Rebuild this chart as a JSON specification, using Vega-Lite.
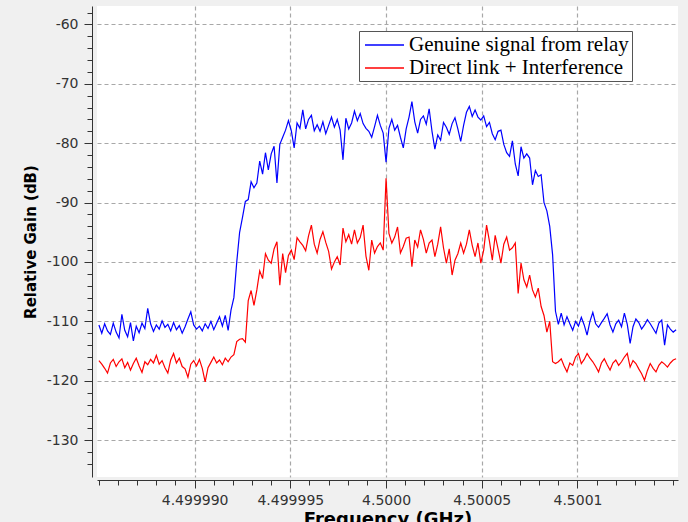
{
  "$schema": "https://vega.github.io/schema/vega-lite/v6.json",
  "width": 581,
  "height": 471,
  "autosize": {"type": "none"},
  "padding": {"left": 97, "top": 6, "right": 10, "bottom": 45},
  "background": "#f0f0f0",
  "config": {
    "view": {"stroke": null, "fill": "white"},
    "axis": {"labelFont": "DejaVu Sans", "labelFontSize": 14, "labelColor": "#333333", "tickColor": "#333333", "domainColor": "#333333", "titleFont": "DejaVu Sans", "titleColor": "#000000"}
  },
  "data": {
    "values": [
      {"f": -15.00, "g": -110.6, "d": -116.6},
      {"f": -14.85, "g": -112.0, "d": -117.2},
      {"f": -14.70, "g": -110.4, "d": -117.9},
      {"f": -14.55, "g": -111.6, "d": -118.7},
      {"f": -14.40, "g": -112.2, "d": -117.0},
      {"f": -14.25, "g": -110.3, "d": -116.4},
      {"f": -14.10, "g": -111.8, "d": -117.6},
      {"f": -13.95, "g": -112.8, "d": -116.8},
      {"f": -13.80, "g": -108.8, "d": -116.3},
      {"f": -13.65, "g": -111.5, "d": -117.8},
      {"f": -13.50, "g": -112.6, "d": -116.9},
      {"f": -13.35, "g": -110.2, "d": -118.2},
      {"f": -13.20, "g": -113.3, "d": -117.1},
      {"f": -13.05, "g": -110.8, "d": -116.2},
      {"f": -12.90, "g": -111.9, "d": -117.5},
      {"f": -12.75, "g": -110.3, "d": -118.6},
      {"f": -12.60, "g": -111.2, "d": -116.8},
      {"f": -12.45, "g": -107.8, "d": -117.3},
      {"f": -12.30, "g": -110.4, "d": -116.4},
      {"f": -12.15, "g": -111.7, "d": -117.0},
      {"f": -12.00, "g": -110.6, "d": -115.7},
      {"f": -11.85, "g": -111.3, "d": -117.2},
      {"f": -11.70, "g": -109.9, "d": -116.6},
      {"f": -11.55, "g": -111.0, "d": -117.8},
      {"f": -11.40, "g": -110.5, "d": -118.7},
      {"f": -11.25, "g": -111.6, "d": -116.5},
      {"f": -11.10, "g": -110.2, "d": -115.4},
      {"f": -10.95, "g": -111.4, "d": -117.0},
      {"f": -10.80, "g": -110.7, "d": -116.2},
      {"f": -10.65, "g": -112.0, "d": -117.6},
      {"f": -10.50, "g": -110.9, "d": -118.0},
      {"f": -10.35, "g": -109.6, "d": -119.4},
      {"f": -10.20, "g": -108.4, "d": -117.2},
      {"f": -10.05, "g": -110.6, "d": -116.6},
      {"f": -9.90, "g": -111.3, "d": -117.5},
      {"f": -9.75, "g": -110.8, "d": -116.4},
      {"f": -9.60, "g": -111.6, "d": -117.9},
      {"f": -9.45, "g": -110.4, "d": -120.2},
      {"f": -9.30, "g": -111.2, "d": -117.8},
      {"f": -9.15, "g": -110.0, "d": -116.9},
      {"f": -9.00, "g": -111.4, "d": -116.0},
      {"f": -8.85, "g": -110.3, "d": -117.0},
      {"f": -8.70, "g": -109.2, "d": -116.5},
      {"f": -8.55, "g": -110.8, "d": -117.3},
      {"f": -8.40, "g": -109.0, "d": -116.2},
      {"f": -8.25, "g": -111.5, "d": -116.8},
      {"f": -8.10, "g": -108.1, "d": -116.0},
      {"f": -7.95, "g": -106.0, "d": -115.6},
      {"f": -7.80, "g": -100.0, "d": -113.4},
      {"f": -7.65, "g": -95.0, "d": -113.0},
      {"f": -7.50, "g": -92.5, "d": -112.9},
      {"f": -7.35, "g": -89.8, "d": -113.5},
      {"f": -7.20, "g": -89.5, "d": -106.5},
      {"f": -7.05, "g": -86.5, "d": -104.8},
      {"f": -6.90, "g": -87.5, "d": -107.3},
      {"f": -6.75, "g": -86.7, "d": -104.7},
      {"f": -6.60, "g": -83.0, "d": -101.5},
      {"f": -6.45, "g": -85.2, "d": -102.8},
      {"f": -6.30, "g": -81.6, "d": -98.6},
      {"f": -6.15, "g": -84.5, "d": -99.7},
      {"f": -6.00, "g": -81.8, "d": -100.2},
      {"f": -5.85, "g": -80.5, "d": -97.8},
      {"f": -5.70, "g": -86.7, "d": -96.6},
      {"f": -5.55, "g": -80.2, "d": -103.9},
      {"f": -5.40, "g": -79.0, "d": -98.6},
      {"f": -5.25, "g": -77.8, "d": -101.8},
      {"f": -5.10, "g": -76.2, "d": -98.9},
      {"f": -4.95, "g": -77.9, "d": -98.0},
      {"f": -4.80, "g": -80.8, "d": -99.6},
      {"f": -4.65, "g": -76.6, "d": -95.9},
      {"f": -4.50, "g": -77.5, "d": -96.6},
      {"f": -4.35, "g": -74.4, "d": -97.2},
      {"f": -4.20, "g": -77.6, "d": -98.1},
      {"f": -4.05, "g": -76.0, "d": -95.6},
      {"f": -3.90, "g": -75.3, "d": -93.8},
      {"f": -3.75, "g": -77.9, "d": -97.0},
      {"f": -3.60, "g": -76.9, "d": -98.5},
      {"f": -3.45, "g": -78.0, "d": -96.2},
      {"f": -3.30, "g": -76.4, "d": -94.9},
      {"f": -3.15, "g": -78.4, "d": -96.7},
      {"f": -3.00, "g": -77.0, "d": -98.2},
      {"f": -2.85, "g": -75.6, "d": -101.2},
      {"f": -2.70, "g": -77.3, "d": -100.0},
      {"f": -2.55, "g": -76.0, "d": -99.1},
      {"f": -2.40, "g": -77.8, "d": -100.5},
      {"f": -2.25, "g": -82.8, "d": -94.3},
      {"f": -2.10, "g": -75.8, "d": -96.6},
      {"f": -1.95, "g": -77.6, "d": -95.4},
      {"f": -1.80, "g": -76.6, "d": -97.0},
      {"f": -1.65, "g": -74.6, "d": -94.6},
      {"f": -1.50, "g": -76.2, "d": -96.8},
      {"f": -1.35, "g": -75.0, "d": -95.9},
      {"f": -1.20, "g": -76.7, "d": -93.8},
      {"f": -1.05, "g": -77.5, "d": -99.0},
      {"f": -0.90, "g": -78.0, "d": -101.4},
      {"f": -0.75, "g": -79.0, "d": -96.3},
      {"f": -0.60, "g": -77.2, "d": -98.5},
      {"f": -0.45, "g": -75.3, "d": -97.4},
      {"f": -0.30, "g": -77.0, "d": -96.8},
      {"f": -0.15, "g": -78.3, "d": -98.0},
      {"f": 0.00, "g": -83.2, "d": -85.9},
      {"f": 0.15, "g": -77.5, "d": -95.2},
      {"f": 0.30, "g": -76.0, "d": -96.8},
      {"f": 0.45, "g": -77.8, "d": -95.8},
      {"f": 0.60, "g": -77.0, "d": -94.1},
      {"f": 0.75, "g": -79.0, "d": -98.5},
      {"f": 0.90, "g": -80.8, "d": -97.4},
      {"f": 1.05, "g": -77.6, "d": -96.0},
      {"f": 1.20, "g": -75.6, "d": -95.8},
      {"f": 1.35, "g": -73.0, "d": -100.8},
      {"f": 1.50, "g": -76.4, "d": -96.3},
      {"f": 1.65, "g": -78.3, "d": -97.5},
      {"f": 1.80, "g": -76.0, "d": -94.6},
      {"f": 1.95, "g": -75.4, "d": -96.2},
      {"f": 2.10, "g": -76.8, "d": -98.5},
      {"f": 2.25, "g": -74.2, "d": -96.8},
      {"f": 2.40, "g": -78.0, "d": -96.3},
      {"f": 2.55, "g": -81.0, "d": -99.1},
      {"f": 2.70, "g": -78.6, "d": -97.0},
      {"f": 2.85, "g": -79.5, "d": -94.1},
      {"f": 3.00, "g": -76.5, "d": -97.6},
      {"f": 3.15, "g": -77.3, "d": -100.2},
      {"f": 3.30, "g": -78.5, "d": -97.8},
      {"f": 3.45, "g": -76.7, "d": -102.2},
      {"f": 3.60, "g": -75.7, "d": -99.7},
      {"f": 3.75, "g": -77.6, "d": -98.6},
      {"f": 3.90, "g": -79.7, "d": -96.8},
      {"f": 4.05, "g": -77.0, "d": -98.5},
      {"f": 4.20, "g": -74.8, "d": -97.0},
      {"f": 4.35, "g": -73.8, "d": -94.6},
      {"f": 4.50, "g": -75.5, "d": -97.2},
      {"f": 4.65, "g": -74.4, "d": -99.1},
      {"f": 4.80, "g": -75.6, "d": -96.8},
      {"f": 4.95, "g": -76.1, "d": -100.2},
      {"f": 5.10, "g": -75.4, "d": -98.0},
      {"f": 5.25, "g": -77.2, "d": -93.8},
      {"f": 5.40, "g": -76.5, "d": -96.5},
      {"f": 5.55, "g": -78.4, "d": -99.7},
      {"f": 5.70, "g": -79.4, "d": -95.5},
      {"f": 5.85, "g": -78.0, "d": -97.8},
      {"f": 6.00, "g": -77.8, "d": -100.2},
      {"f": 6.15, "g": -80.2, "d": -97.0},
      {"f": 6.30, "g": -81.6, "d": -95.8},
      {"f": 6.45, "g": -82.2, "d": -98.0},
      {"f": 6.60, "g": -79.6, "d": -97.6},
      {"f": 6.75, "g": -83.5, "d": -96.8},
      {"f": 6.90, "g": -85.5, "d": -105.3},
      {"f": 7.05, "g": -80.6, "d": -100.2},
      {"f": 7.20, "g": -82.5, "d": -103.0},
      {"f": 7.35, "g": -81.8, "d": -104.2},
      {"f": 7.50, "g": -82.5, "d": -102.2},
      {"f": 7.65, "g": -87.0, "d": -104.7},
      {"f": 7.80, "g": -84.6, "d": -105.9},
      {"f": 7.95, "g": -85.6, "d": -104.4},
      {"f": 8.10, "g": -85.3, "d": -107.5},
      {"f": 8.25, "g": -90.0, "d": -109.0},
      {"f": 8.40, "g": -91.4, "d": -111.8},
      {"f": 8.55, "g": -94.0, "d": -110.0},
      {"f": 8.70, "g": -98.8, "d": -116.8},
      {"f": 8.85, "g": -108.3, "d": -117.1},
      {"f": 9.00, "g": -110.5, "d": -116.8},
      {"f": 9.15, "g": -108.6, "d": -116.3},
      {"f": 9.30, "g": -110.6, "d": -117.5},
      {"f": 9.45, "g": -109.2, "d": -118.5},
      {"f": 9.60, "g": -110.4, "d": -117.0},
      {"f": 9.75, "g": -111.5, "d": -117.4},
      {"f": 9.90, "g": -110.0, "d": -116.0},
      {"f": 10.05, "g": -110.8, "d": -115.4},
      {"f": 10.20, "g": -109.3, "d": -117.1},
      {"f": 10.35, "g": -110.6, "d": -116.4},
      {"f": 10.50, "g": -112.3, "d": -115.4},
      {"f": 10.65, "g": -110.0, "d": -116.2},
      {"f": 10.80, "g": -108.5, "d": -116.8},
      {"f": 10.95, "g": -110.4, "d": -117.6},
      {"f": 11.10, "g": -111.0, "d": -118.5},
      {"f": 11.25, "g": -110.2, "d": -117.0},
      {"f": 11.40, "g": -109.5, "d": -116.3},
      {"f": 11.55, "g": -108.7, "d": -117.3},
      {"f": 11.70, "g": -110.6, "d": -118.2},
      {"f": 11.85, "g": -111.8, "d": -117.0},
      {"f": 12.00, "g": -110.4, "d": -116.5},
      {"f": 12.15, "g": -109.8, "d": -117.4},
      {"f": 12.30, "g": -110.9, "d": -116.8},
      {"f": 12.45, "g": -108.6, "d": -116.0},
      {"f": 12.60, "g": -110.5, "d": -115.4},
      {"f": 12.75, "g": -113.7, "d": -117.7},
      {"f": 12.90, "g": -110.9, "d": -116.6},
      {"f": 13.05, "g": -109.6, "d": -117.1},
      {"f": 13.20, "g": -110.2, "d": -118.0},
      {"f": 13.35, "g": -111.3, "d": -118.8},
      {"f": 13.50, "g": -110.6, "d": -119.9},
      {"f": 13.65, "g": -109.7, "d": -118.3},
      {"f": 13.80, "g": -110.4, "d": -117.1},
      {"f": 13.95, "g": -111.2, "d": -117.9},
      {"f": 14.10, "g": -112.0, "d": -118.5},
      {"f": 14.25, "g": -110.3, "d": -117.4},
      {"f": 14.40, "g": -109.8, "d": -116.8},
      {"f": 14.55, "g": -114.0, "d": -117.2},
      {"f": 14.70, "g": -110.6, "d": -117.7},
      {"f": 14.85, "g": -111.3, "d": -117.0},
      {"f": 15.00, "g": -111.8, "d": -116.5},
      {"f": 15.15, "g": -111.4, "d": -116.3}
    ]
  },
  "transform": [{"fold": ["g", "d"], "as": ["s", "gain"]}],
  "layer": [
    {
      "transform": [{"filter": "datum.s == 'g'"}],
      "mark": {"type": "line", "strokeWidth": 1.2, "clip": true},
      "encoding": {
        "x": {
          "field": "f", "type": "quantitative",
          "scale": {"domain": [-15.1, 15.25], "nice": false, "zero": false},
          "axis": {
            "orient": "bottom", "offset": 3,
            "values": [-10, -5, 0, 5, 10],
            "labelExpr": "datum.value == -10 ? '4.499990' : datum.value == -5 ? '4.499995' : datum.value == 0 ? '4.5000' : datum.value == 5 ? '4.50005' : '4.5001'",
            "tickSize": 8, "labelPadding": 5,
            "grid": true, "gridDash": [4, 3], "gridColor": "#a8a8a8", "gridWidth": 1.2,
            "title": "Frequency (GHz)", "titleFontSize": 18, "titleFontWeight": "bold", "titlePadding": 3
          }
        },
        "y": {
          "field": "gain", "type": "quantitative",
          "scale": {"domain": [-136.2, -56.9], "nice": false, "zero": false},
          "axis": {
            "orient": "left", "offset": 5,
            "values": [-130, -120, -110, -100, -90, -80, -70, -60],
            "labelExpr": "'-' + format(abs(datum.value), 'd')",
            "tickSize": 8, "labelPadding": 6,
            "grid": true, "gridDash": [4, 3], "gridColor": "#a8a8a8", "gridWidth": 1.2,
            "title": "Relative Gain (dB)", "titleFontSize": 15, "titleFontWeight": "bold", "titlePadding": 8
          }
        },
        "color": {
          "field": "s", "type": "nominal",
          "scale": {"domain": ["g", "d"], "range": ["#0000ff", "#ff0000"]},
          "legend": {
            "orient": "none", "legendX": 262, "legendY": 25,
            "title": null,
            "labelExpr": "datum.label == 'g' ? 'Genuine signal from relay' : 'Direct link + Interference'",
            "labelFont": "Liberation Serif", "labelFontSize": 21, "labelColor": "#000000", "labelLimit": 0,
            "symbolType": "M-0.8,0H3.1", "symbolSize": 400, "symbolStrokeWidth": 1.3,
            "fillColor": "#ffffff", "strokeColor": "#555555", "padding": 3, "rowPadding": 2, "labelOffset": 25
          }
        }
      }
    },
    {
      "transform": [{"filter": "datum.s == 'd'"}],
      "mark": {"type": "line", "strokeWidth": 1.2, "clip": true},
      "encoding": {
        "x": {
          "field": "f", "type": "quantitative",
          "axis": {
            "orient": "bottom", "offset": 3,
            "values": [-15, -14, -13, -12, -11, -9, -8, -7, -6, -4, -3, -2, -1, 1, 2, 3, 4, 6, 7, 8, 9, 11, 12, 13, 14, 15],
            "tickSize": 5, "labels": false, "grid": false, "domain": false, "title": null
          }
        },
        "y": {
          "field": "gain", "type": "quantitative",
          "axis": {
            "orient": "left", "offset": 5,
            "values": [-134, -132, -128, -126, -124, -122, -118, -116, -114, -112, -108, -106, -104, -102, -98, -96, -94, -92, -88, -86, -84, -82, -78, -76, -74, -72, -68, -66, -64, -62, -58],
            "tickSize": 5, "labels": false, "grid": false, "domain": false, "title": null
          }
        },
        "color": {"field": "s", "type": "nominal"}
      }
    }
  ],
  "resolve": {"axis": {"x": "independent", "y": "independent"}}
}
